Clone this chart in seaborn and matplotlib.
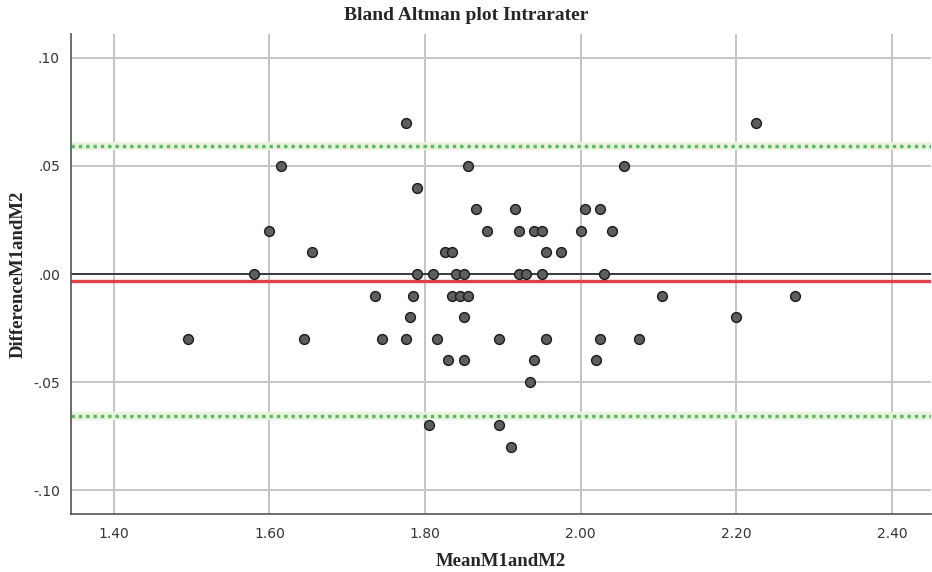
import numpy as np
import pandas as pd
import matplotlib
matplotlib.use("Agg")
import matplotlib.pyplot as plt
import seaborn as sns
from matplotlib.ticker import FuncFormatter

# Data (mean of M1 & M2, difference M1 - M2)
mean_vals = [
    1.775, 2.225,
    1.615, 1.855, 2.055,
    1.790,
    1.865, 1.915, 2.005, 2.025,
    1.600, 1.880, 1.920, 1.940, 1.950, 2.000, 2.040,
    1.655, 1.825, 1.835, 1.955, 1.975,
    1.580, 1.790, 1.810, 1.840, 1.850, 1.920, 1.930, 1.950, 2.030,
    1.735, 1.785, 1.835, 1.845, 1.855, 2.105, 2.275,
    1.780, 1.850, 2.200,
    1.495, 1.645, 1.745, 1.775, 1.815, 1.895, 1.955, 2.025, 2.075,
    1.830, 1.850, 1.940, 2.020,
    1.935,
    1.805, 1.895,
    1.910,
]
diff_vals = [
    0.07, 0.07,
    0.05, 0.05, 0.05,
    0.04,
    0.03, 0.03, 0.03, 0.03,
    0.02, 0.02, 0.02, 0.02, 0.02, 0.02, 0.02,
    0.01, 0.01, 0.01, 0.01, 0.01,
    0.00, 0.00, 0.00, 0.00, 0.00, 0.00, 0.00, 0.00, 0.00,
    -0.01, -0.01, -0.01, -0.01, -0.01, -0.01, -0.01,
    -0.02, -0.02, -0.02,
    -0.03, -0.03, -0.03, -0.03, -0.03, -0.03, -0.03, -0.03, -0.03,
    -0.04, -0.04, -0.04, -0.04,
    -0.05,
    -0.07, -0.07,
    -0.08,
]
mean_diff = -0.0032
upper_loa = 0.0593
lower_loa = -0.0657
x_ticks = [1.40, 1.60, 1.80, 2.00, 2.20, 2.40]
y_ticks = [-0.10, -0.05, 0.00, 0.05, 0.10]

df = pd.DataFrame({"MeanM1andM2": mean_vals, "DifferenceM1andM2": diff_vals})

sns.set_style("white")
plt.rcParams["font.family"] = ["DejaVu Sans"]

fig = plt.figure(figsize=(9.32, 5.72), dpi=100)
ax = fig.add_axes([71 / 932, 1 - 514 / 572, (931 - 71) / 932, (514 - 34) / 572])

ax.set_xlim(1.345, 2.45)
ax.set_ylim(-0.111, 0.111)
ax.set_xticks(x_ticks)
ax.set_yticks(y_ticks)
ax.grid(True, color="#c4c4c4", linewidth=1.4)
ax.set_axisbelow(True)

# reference lines
ax.axhline(0, color="#3a3a44", linewidth=1.4, zorder=2)
ax.axhline(mean_diff, color="#e0404a", linewidth=2.4, zorder=2)
for v in (upper_loa, lower_loa):
    ax.axhline(v, color="#e8f3e0", linewidth=6, zorder=1.5)
    ax.axhline(v, color="#5cb85c", linewidth=2.4, linestyle=(0, (1, 1.2)), zorder=2)

sns.scatterplot(data=df, x="MeanM1andM2", y="DifferenceM1andM2", ax=ax,
                s=50, color="#5e5e5e", edgecolor="#1a1a1a", linewidth=1.0, zorder=3)

ax.xaxis.set_major_formatter(FuncFormatter(lambda v, p: f"{v:.2f}"))
def yfmt(v, p):
    s = f"{v:.2f}"
    s = s.replace("0.", ".")
    if s == "-.00":
        s = ".00"
    return s
ax.yaxis.set_major_formatter(FuncFormatter(yfmt))

for side in ("top", "right"):
    ax.spines[side].set_visible(False)
for side in ("left", "bottom"):
    ax.spines[side].set_color("#555555")
    ax.spines[side].set_linewidth(1.2)

ax.tick_params(axis="x", length=0, labelsize=10, colors="#333333", pad=9)
ax.tick_params(axis="y", length=0, labelsize=10, colors="#333333", pad=8)

ax.set_xlabel("MeanM1andM2", fontsize=13.5, fontweight="bold",
              family=["Liberation Serif"])
ax.set_ylabel("DifferenceM1andM2", fontsize=13.5, fontweight="bold",
              family=["Liberation Serif"])
ax.xaxis.set_label_coords(0.5 * (1.0) + (501 - 501) / 860, (514 - 561) / 480)
ax.xaxis.label.set_va("center")
ax.yaxis.set_label_coords((18 - 71) / 860, 0.5 + (274 - 274) / 480)
ax.yaxis.label.set_va("center")
fig.text(466 / 932, 1 - 16 / 572, "Bland Altman plot Intrarater", ha="center", va="center",
         fontsize=14, fontweight="bold", family=["Liberation Serif"])

fig.savefig("out.png", dpi=100)
